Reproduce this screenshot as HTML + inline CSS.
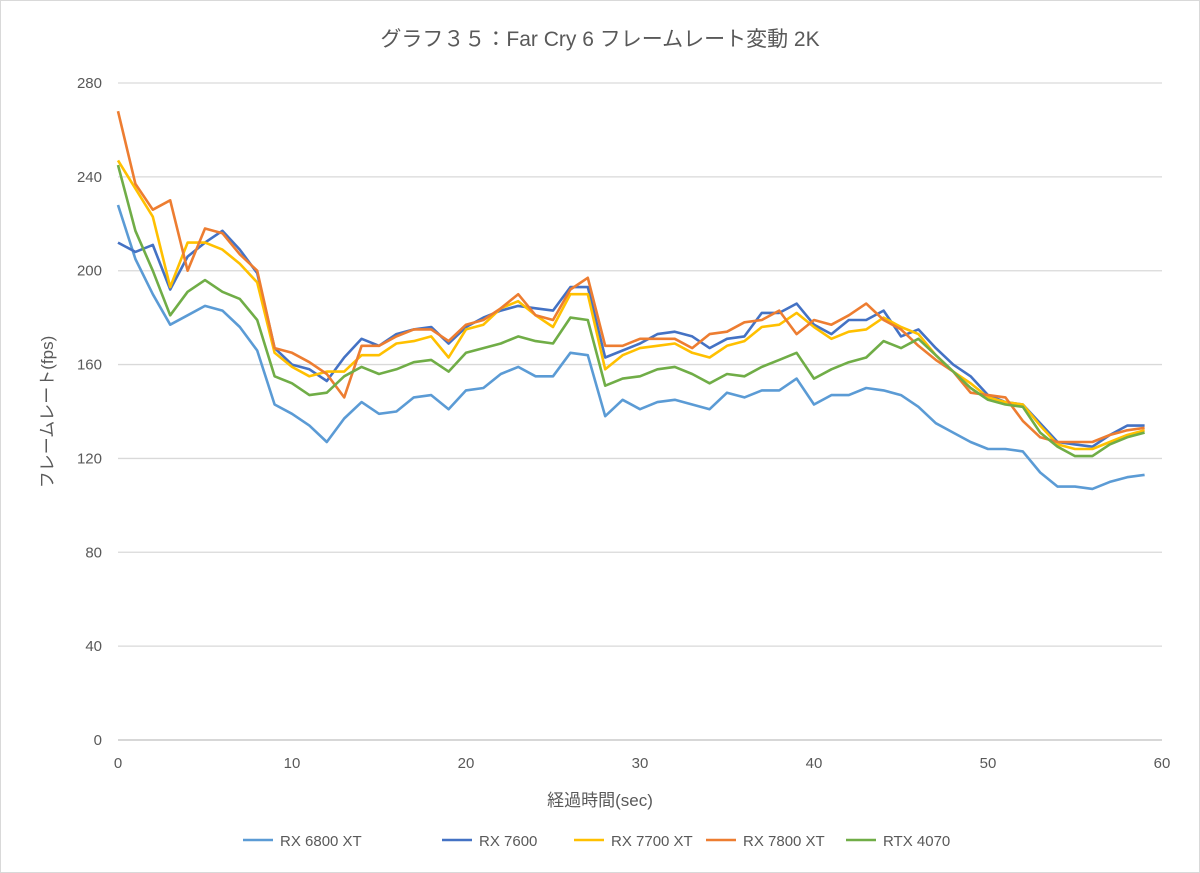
<!DOCTYPE html>
<html><head><meta charset="utf-8">
<style>
body{margin:0;background:#fff;}
svg{display:block;font-family:"Liberation Sans","Noto Sans CJK JP",sans-serif;}
</style></head>
<body>
<svg id="chart" width="1200" height="873">
<rect x="0.5" y="0.5" width="1199" height="872" fill="#fff" stroke="#d9d9d9"/>
<text x="600" y="46" text-anchor="middle" font-size="21" fill="#595959">グラフ３５：Far Cry 6 フレームレート変動 2K</text>
<g id="grid"></g><g id="series"></g><g id="axes"></g>
<text x="600" y="806" text-anchor="middle" font-size="17" fill="#595959">経過時間(sec)</text>
<text transform="translate(53,412) rotate(-90)" text-anchor="middle" font-size="17" fill="#595959">フレームレート(fps)</text>
<g id="legend"></g>
</svg>
<script>
const seriesNames=["RX 6800 XT","RX 7600","RX 7700 XT","RX 7800 XT","RTX 4070"];
const colors=["#5b9bd5","#4472c4","#ffc000","#ed7d31","#70ad47"];
const yTicks=[0,40,80,120,160,200,240,280];
const xTicks=[0,10,20,30,40,50,60];
const rx6800xt=[228,205,190,177,181,185,183,176,166,143,139,134,127,137,144,139,140,146,147,141,149,150,156,159,155,155,165,164,138,145,141,144,145,143,141,148,146,149,149,154,143,147,147,150,149,147,142,135,131,127,124,124,123,114,108,108,107,110,112,113];
const rx7600=[212,208,211,192,206,212,217,209,199,167,160,158,153,163,171,168,173,175,176,169,176,180,183,185,184,183,193,193,163,166,169,173,174,172,167,171,172,182,182,186,177,173,179,179,183,172,175,167,160,155,147,144,143,135,127,126,125,130,134,134];
const rx7700xt=[247,235,223,193,212,212,209,203,195,165,159,155,157,157,164,164,169,170,172,163,175,177,184,187,181,176,190,190,158,164,167,168,169,165,163,168,170,176,177,182,176,171,174,175,180,176,173,164,157,152,146,144,143,134,126,124,124,127,130,132];
const rx7800xt=[268,237,226,230,200,218,216,207,200,167,165,161,156,146,168,168,172,175,175,170,177,179,184,190,181,179,192,197,168,168,171,171,171,167,173,174,178,179,183,173,179,177,181,186,179,175,168,162,157,148,147,146,136,129,127,127,127,130,132,133];
const rtx4070=[245,217,200,181,191,196,191,188,179,155,152,147,148,155,159,156,158,161,162,157,165,167,169,172,170,169,180,179,151,154,155,158,159,156,152,156,155,159,162,165,154,158,161,163,170,167,171,164,157,150,145,143,142,131,125,121,121,126,129,131];
const allSeries=[rx6800xt,rx7600,rx7700xt,rx7800xt,rtx4070];
const NS="http://www.w3.org/2000/svg";
const X0=118,X1=1162,Y0=740,Y1=83;
const xs=v=>X0+(X1-X0)*v/60;
const ys=v=>Y0-(Y0-Y1)*v/280;
function mk(tag,attrs,parent){const e=document.createElementNS(NS,tag);for(const k in attrs)e.setAttribute(k,attrs[k]);parent.appendChild(e);return e;}
const grid=document.getElementById('grid'),axes=document.getElementById('axes'),ser=document.getElementById('series'),leg=document.getElementById('legend');
yTicks.forEach(t=>{
 const l=mk('line',{x1:X0,x2:X1,y1:ys(t),y2:ys(t),stroke:t===0?'#bfbfbf':'#d9d9d9','stroke-width':1.3},grid);
 
 
 const tx=mk('text',{x:102,y:ys(t)+5,'text-anchor':'end','font-size':15,fill:'#595959'},axes);
 tx.textContent=t;
 
 
});
xTicks.forEach(t=>{
 const tx=mk('text',{x:xs(t),y:768,'text-anchor':'middle','font-size':15,fill:'#595959'},axes);
 tx.textContent=t;
 
 
});
allSeries.forEach((d,i)=>{
 const pts=d.map((v,j)=>xs(j).toFixed(1)+','+ys(v).toFixed(1)).join(' ');
 const p=mk('polyline',{points:pts,fill:'none',stroke:colors[i],'stroke-width':2.6,'stroke-linejoin':'round'},ser);
 
 
});
const legX=[243,442,574,706,846];
seriesNames.forEach((n,i)=>{
 const g=mk('g',{},leg);
 
 
 mk('line',{x1:legX[i],x2:legX[i]+30,y1:840,y2:840,stroke:colors[i],'stroke-width':2.6},g);
 const t=mk('text',{x:legX[i]+37,y:846,'font-size':15,fill:'#595959'},g);
 t.textContent=n;
});
</script>
</body></html>
